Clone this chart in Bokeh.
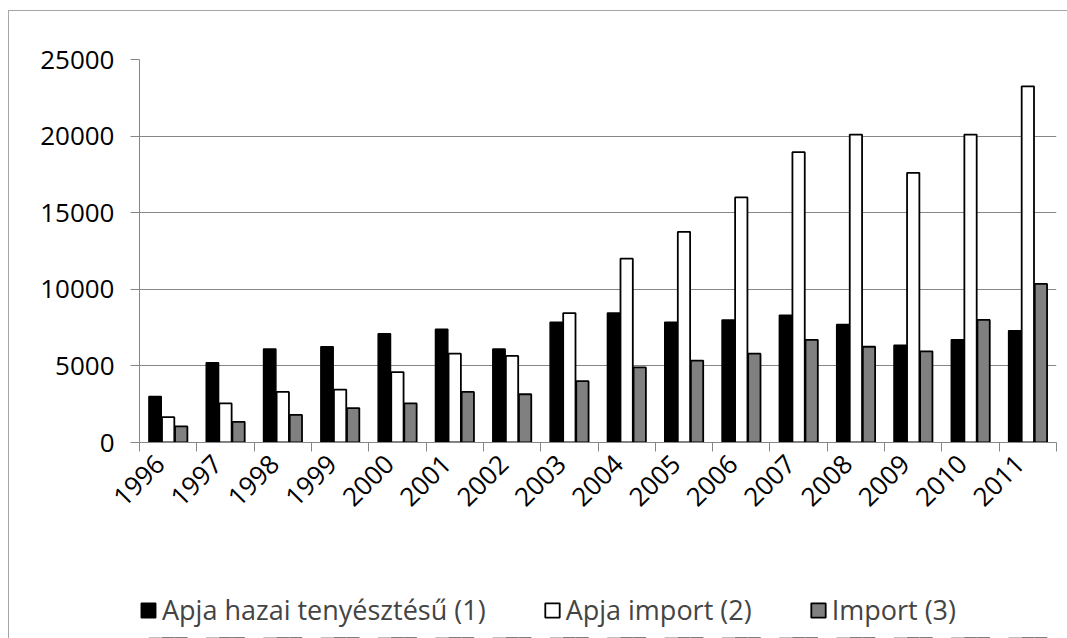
import math
from bokeh.plotting import figure
from bokeh.layouts import column
from bokeh.models import Range1d, FixedTicker, Legend, LegendItem, ColumnDataSource
from bokeh.embed import file_html
from bokeh.resources import INLINE

years = ["1996", "1997", "1998", "1999", "2000", "2001", "2002", "2003",
         "2004", "2005", "2006", "2007", "2008", "2009", "2010", "2011"]
hazai = [3000, 5200, 6100, 6250, 7100, 7400, 6100, 7850, 8450, 7850, 8000, 8300, 7700, 6350, 6700, 7300]
apja_import = [1650, 2550, 3300, 3450, 4600, 5800, 5650, 8450, 12000, 13750, 16000, 18950, 20100, 17600, 20100, 23250]
import3 = [1050, 1350, 1800, 2250, 2550, 3300, 3150, 4000, 4900, 5350, 5800, 6700, 6250, 5950, 8000, 10350]
legend_labels = ["Apja hazai tenyésztésű (1)", "Apja import (2)", "Import (3)"]
y_ticks = [0, 5000, 10000, 15000, 20000, 25000]

centers = [i + 0.5 for i in range(len(years))]
label_pos = [i + 0.36 for i in range(len(years))]
off = 0.228
src = ColumnDataSource(dict(
    x1=[c - off for c in centers],
    x2=[c for c in centers],
    x3=[c + off for c in centers],
    hazai=hazai, apja_import=apja_import, import3=import3,
))

FONT = "Open Sans"
GRID = "#868686"
FILLS = ["black", "white", "#808080"]
LW = [1.5, 1.8, 1.8]
COLS = ["hazai", "apja_import", "import3"]
XS = ["x1", "x2", "x3"]

p = figure(width=1058, height=572, output_backend="svg", toolbar_location=None,
           x_range=Range1d(0, len(years)), y_range=Range1d(0, 25000),
           min_border_left=130, min_border_right=11, min_border_top=48,
           min_border_bottom=141)
p.outline_line_color = None

w = 0.215
for xc, col, f, lw in zip(XS, COLS, FILLS, LW):
    p.vbar(x=xc, top=col, width=w, source=src, fill_color=f, line_color="black", line_width=lw)

# axes
p.xaxis.ticker = FixedTicker(ticks=label_pos, minor_ticks=list(range(len(years) + 1)))
p.xaxis.major_label_overrides = {c: y for c, y in zip(label_pos, years)}
p.xaxis.major_label_orientation = math.pi / 4
p.xaxis.major_tick_line_color = None
p.xaxis.minor_tick_line_color = GRID
p.xaxis.minor_tick_out = 9
p.xaxis.minor_tick_in = 0
p.xaxis.axis_line_color = GRID
p.xaxis.major_label_text_font = FONT
p.xaxis.major_label_text_font_size = "26px"
p.xaxis.major_label_text_color = "black"
p.xaxis.major_label_standoff = 8

p.yaxis.ticker = FixedTicker(ticks=y_ticks)
p.yaxis.major_label_overrides = {t: str(t) for t in y_ticks}
p.yaxis.minor_tick_line_color = None
p.yaxis.major_tick_line_color = GRID
p.yaxis.major_tick_out = 9
p.yaxis.major_tick_in = 0
p.yaxis.axis_line_color = GRID
p.yaxis.major_label_text_font = FONT
p.yaxis.major_label_text_font_size = "26px"
p.yaxis.major_label_text_color = "black"
p.yaxis.major_label_standoff = 16

p.xgrid.grid_line_color = None
p.ygrid.grid_line_color = GRID
p.ygrid.ticker = FixedTicker(ticks=y_ticks[1:])

# legend strip: same series drawn outside its visible range (below it), used only for the swatches
pl = figure(width=1058, height=55, output_backend="svg", toolbar_location=None,
            x_range=Range1d(0, len(years)), y_range=Range1d(30000, 40000),
            x_axis_type=None, y_axis_type=None, min_border=0)
pl.outline_line_color = None
pl.xgrid.grid_line_color = None
pl.ygrid.grid_line_color = None
swatches = [pl.vbar(x=xc, top=col, width=w, source=src, fill_color=f, line_color="black", line_width=lw)
            for xc, col, f, lw in zip(XS, COLS, FILLS, LW)]
lg = Legend(items=[LegendItem(label=lab, renderers=[r]) for lab, r in zip(legend_labels, swatches)],
            location=(0, 10), orientation="horizontal", padding=0, margin=0, spacing=57,
            glyph_width=18, glyph_height=18, label_standoff=5,
            label_text_font=FONT, label_text_font_size="27px",
            border_line_color=None, background_fill_alpha=0)
pl.add_layout(lg, "center")

layout = column(p, pl, spacing=0, margin=(11, 0, 0, 9),
                styles={"outline": "1px solid #a6a6a6", "outline-offset": "0px"})

open("out.html", "w").write(file_html(layout, INLINE))
